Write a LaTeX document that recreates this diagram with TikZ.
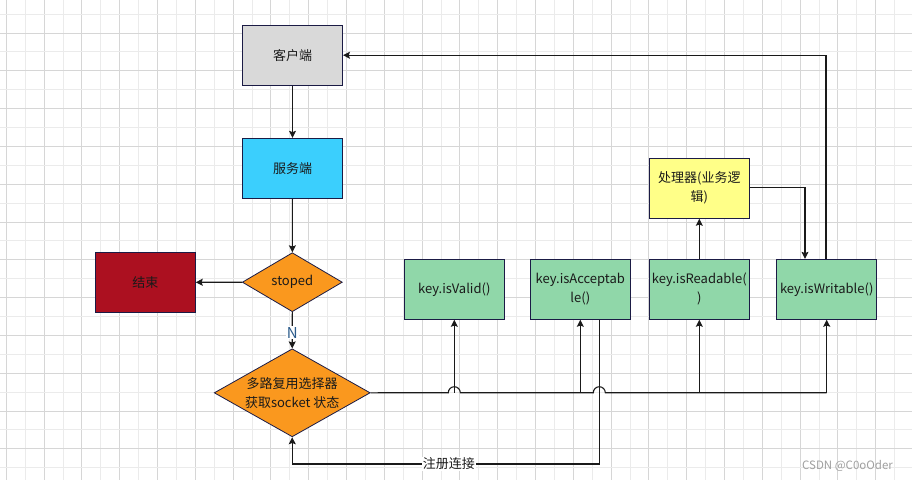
\documentclass[tikz,border=0pt]{standalone}
\usepackage{fontspec}
\setmainfont{Noto Sans CJK SC}
\usetikzlibrary{shapes.geometric,arrows.meta}
\definecolor{gridD}{HTML}{D6D6D6}
\definecolor{gridL}{HTML}{EBEBEB}
\definecolor{edgeC}{HTML}{1A1A1A}
\definecolor{bordC}{HTML}{1B1B45}
\definecolor{grayF}{HTML}{D9D9D9}
\definecolor{cyanF}{HTML}{3BCFFD}
\definecolor{orangeF}{HTML}{FA981E}
\definecolor{redF}{HTML}{AC1020}
\definecolor{greenF}{HTML}{90D7A9}
\definecolor{yellowF}{HTML}{FFFF88}
\definecolor{txtC}{HTML}{1A1A1A}
\definecolor{nC}{HTML}{2A5A8A}
\begin{document}
\begin{tikzpicture}[x=1pt,y=-1pt,
  box/.style={draw=bordC,line width=0.9pt,minimum width=100pt,minimum height=60pt,inner sep=1pt,align=center,font=\fontsize{13}{19}\selectfont,text=txtC},
  dia/.style={diamond,aspect=1.7,draw=bordC,line width=0.8pt,fill=orangeF,inner sep=0pt,align=center,font=\fontsize{13}{19}\selectfont,text=txtC},
  conn/.style={draw=edgeC,line width=1.1pt},
  arr/.style={conn,-{Stealth[length=7pt,width=7pt,inset=1.2pt]}},
  lbl/.style={fill=white,inner sep=1pt,font=\fontsize{13}{15}\selectfont,text=txtC}]
\useasboundingbox (0,0) rectangle (912,480);
\fill[white] (0,0) rectangle (912,480);
% grid
\foreach \i in {0,...,24}{
  \draw[gridL,line width=0.9pt] ({25.2+37.8*\i},0) -- ({25.2+37.8*\i},480);
  \draw[gridD,line width=0.9pt] ({6.3+37.8*\i},0) -- ({6.3+37.8*\i},480);
}
\foreach \j in {0,...,13}{
  \draw[gridL,line width=0.9pt] (0,{14.1+37.8*\j}) -- (912,{14.1+37.8*\j});
  \draw[gridD,line width=0.9pt] (0,{-4.8+37.8*\j}) -- (912,{-4.8+37.8*\j});
}
% nodes
\node[box,fill=grayF] (client) at (292.5,55.2) {客户端};
\node[box,fill=cyanF] (server) at (292.5,168.3) {服务端};
\node[dia,minimum width=100pt,minimum height=59pt] (stop) at (292.3,282.2) {stoped};
\node[box,fill=redF] (end) at (145.3,282.3) {结束};
\node[dia,minimum width=156pt,minimum height=88pt] (sel) at (292.2,392.8) {多路复用选择器\\获取socket 状态};
\node[box,fill=greenF] (valid) at (454.3,289.3) {key.isValid()};
\node[box,fill=greenF] (accept) at (580.3,289.3) {key.isAcceptab\\le()};
\node[box,fill=greenF] (read) at (699.3,289.3) {key.isReadable(\\)};
\node[box,fill=greenF] (write) at (826.7,289.3) {key.isWritable()};
\node[box,fill=yellowF] (proc) at (699.3,188.3) {处理器(业务逻\\辑)};
% coordinates
\coordinate (busA) at (448.3,392.7);
\coordinate (busC) at (593.3,392.7);
\coordinate (busW) at (826.7,392.7);
\coordinate (loopR) at (599.3,464);
\coordinate (loopL) at (292.2,464);
\coordinate (procR) at (805,187.3);
\coordinate (topR) at (826,55.2);
% edges
\draw[arr] (client) -- (server);
\draw[arr] (server) -- (stop);
\draw[arr] (stop) -- (end);
\draw[arr] (stop.south) -- node[lbl,text=nC,pos=0.57,font=\fontsize{15}{16}\selectfont]{N} (sel.north);
\draw[conn] (sel.east) -- (busA) arc[start angle=180,end angle=0,x radius=6pt,y radius=6pt] -- (busC)
  arc[start angle=180,end angle=0,x radius=6pt,y radius=6pt] -- (busW);
\draw[arr] (busW) -- (write.south);
\draw[arr] (454.3,392.7) -- (valid.south);
\draw[arr] (580.3,392.7) -- (accept.south);
\draw[arr] (699.3,392.7) -- (read.south);
\draw[arr] (read) -- (proc);
\draw[arr] (proc.east |- procR) -- (procR) -- (procR |- write.north);
\draw[arr] (topR |- write.north) -- (topR) -- (client.east);
\draw[arr] (loopR |- accept.south) -- (loopR) -- node[lbl,pos=0.49]{注册连接} (loopL) -- (sel.south);
% watermark
\node[font=\fontsize{11.5}{13}\selectfont,text=gray!75] (wm) at (847.5,465.5) {CSDN @C0oOder};
\end{tikzpicture}
\end{document}
